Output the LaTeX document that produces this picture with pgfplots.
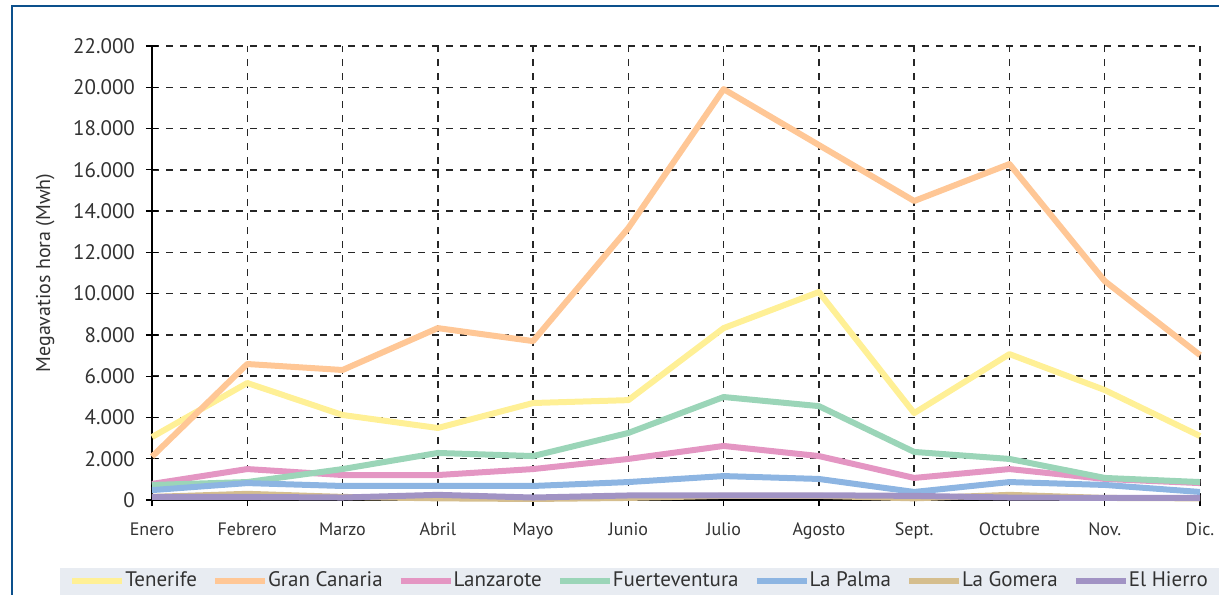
\documentclass[border=0pt]{standalone}
\usepackage{fontspec}
\setmainfont{PT Sans}
\usepackage{pgfplots}
\pgfplotsset{compat=1.18}
\definecolor{framecol}{RGB}{12,80,140}
\definecolor{legbg}{RGB}{232,236,242}
\definecolor{tenerife}{RGB}{255,240,150}
\definecolor{grancanaria}{RGB}{255,199,150}
\definecolor{lanzarote}{RGB}{228,150,195}
\definecolor{fuerte}{RGB}{155,213,184}
\definecolor{lapalma}{RGB}{141,181,226}
\definecolor{lagomera}{RGB}{213,190,142}
\definecolor{hierro}{RGB}{161,147,196}
\definecolor{txt}{RGB}{50,50,50}

\begin{document}
\begin{tikzpicture}
\useasboundingbox (0,0) rectangle (609.5pt,-297pt);
% legend band and frame
\fill[legbg] (30pt,-284pt) rectangle (612pt,-300pt);
\draw[framecol, line width=1.3pt] (6pt,-300pt) -- (6pt,-3pt) -- (612pt,-3pt);
\begin{axis}[
  at={(76pt,-250pt)}, anchor=south west,
  scale only axis, width=524pt, height=227pt,
  xmin=0, xmax=11, ymin=0, ymax=22000,
  xtick={0,...,11},
  xticklabels={Enero,Febrero,Marzo,Abril,Mayo,Junio,Julio,Agosto,Sept.,Octubre,Nov.,Dic.},
  ytick={0,2000,...,22000},
  scaled y ticks=false,
  axis lines=left, axis line style={-, black, line width=0.8pt},
  tick align=center, major tick length=6pt,
  tick style={black, line width=0.6pt},
  grid=major,
  major grid style={dash pattern=on 3.5pt off 3.5pt, black!85, line width=0.75pt},
  /pgf/number format/.cd, 1000 sep={.}, assume math mode=true, /pgfplots/.cd,
  yticklabel style={font=\fontsize{10.5}{12}\selectfont, text=txt, xshift=-2pt},
  xticklabel style={font=\fontsize{9}{11}\selectfont, text=txt, yshift=-5pt},
  ylabel={Megavatios hora (Mwh)},
  ylabel style={at={(axis description cs:-0.102,0.5)}, anchor=center,
    font=\fontsize{10}{12}\selectfont, text=txt},
  clip=false,
  legend columns=7,
  legend cell align=left,
  legend image code/.code={\draw[#1, line width=3pt] (0pt,0pt) -- (25pt,0pt);},
  legend style={draw=none, fill=none, inner sep=0pt,
    at={(axis description cs:-0.0792,-0.178)}, anchor=west,
    font=\fontsize{10.5}{12}\selectfont, text=txt,
    nodes={inner xsep=2pt},
    /tikz/every even column/.append style={column sep=5.5pt},
    /tikz/every odd column/.append style={column sep=-2pt}},
  every axis plot/.append style={line width=3pt, line join=round},
]
\addplot[tenerife] coordinates {(0,3050)(1,5670)(2,4120)(3,3490)(4,4700)(5,4840)(6,8330)(7,10080)(8,4210)(9,7070)(10,5330)(11,3100)};
\addlegendentry{Tenerife}
\addplot[grancanaria] coordinates {(0,2100)(1,6590)(2,6300)(3,8330)(4,7700)(5,13180)(6,19910)(7,17200)(8,14490)(9,16280)(10,10610)(11,7020)};
\addlegendentry{Gran Canaria}
\addplot[lanzarote] coordinates {(0,780)(1,1500)(2,1210)(3,1210)(4,1500)(5,1990)(6,2620)(7,2130)(8,1070)(9,1500)(10,1020)(11,820)};
\addlegendentry{Lanzarote}
\addplot[fuerte] coordinates {(0,730)(1,870)(2,1500)(3,2280)(4,2130)(5,3250)(6,4990)(7,4550)(8,2330)(9,1990)(10,1070)(11,870)};
\addlegendentry{Fuerteventura}
\addplot[lapalma] coordinates {(0,480)(1,820)(2,680)(3,680)(4,680)(5,870)(6,1160)(7,1020)(8,390)(9,870)(10,730)(11,390)};
\addlegendentry{La Palma}
\addplot[lagomera] coordinates {(0,150)(1,300)(2,150)(3,80)(4,50)(5,100)(6,200)(7,200)(8,80)(9,250)(10,100)(11,80)};
\addlegendentry{La Gomera}
\addplot[hierro] coordinates {(0,150)(1,150)(2,120)(3,250)(4,120)(5,220)(6,230)(7,230)(8,200)(9,120)(10,100)(11,100)};
\addlegendentry{El Hierro}
\end{axis}
\end{tikzpicture}
\end{document}
